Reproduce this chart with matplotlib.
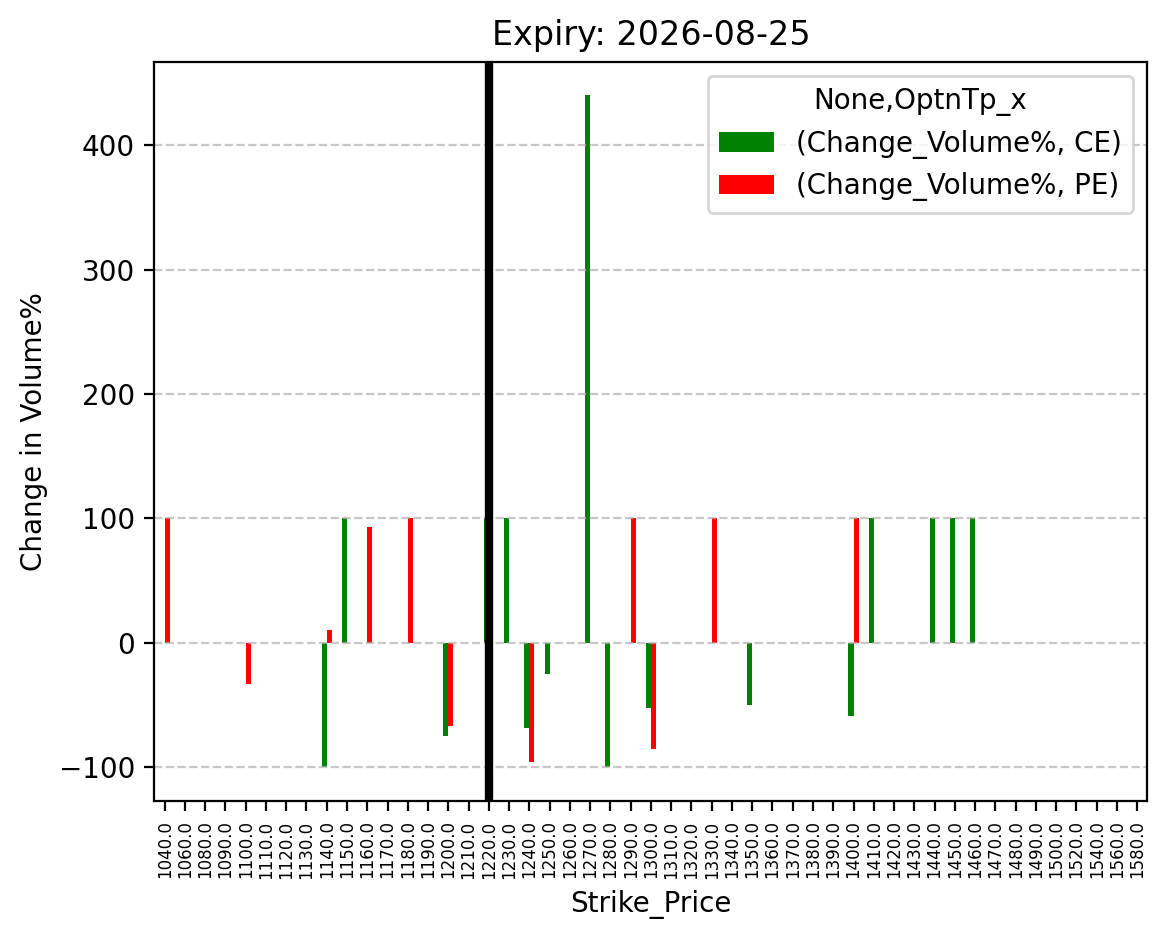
import numpy as np
import pandas as pd
import matplotlib
matplotlib.use("Agg")
import matplotlib.pyplot as plt

# Strike prices on the x axis
strikes = [1040, 1060, 1080, 1090, 1100, 1110, 1120, 1130, 1140, 1150,
           1160, 1170, 1180, 1190, 1200, 1210, 1220, 1230, 1240, 1250,
           1260, 1270, 1280, 1290, 1300, 1310, 1320, 1330, 1340, 1350,
           1360, 1370, 1380, 1390, 1400, 1410, 1420, 1430, 1440, 1450,
           1460, 1470, 1480, 1490, 1500, 1520, 1540, 1560, 1580]

# Change in volume % per strike (NaN = no bar)
nan = np.nan
ce_change = {1140: -100, 1150: 100, 1200: -75, 1220: 100, 1230: 100,
             1240: -68, 1250: -25, 1270: 440, 1280: -100, 1300: -52,
             1350: -50, 1400: -59, 1410: 100, 1440: 100, 1450: 100, 1460: 100}
pe_change = {1040: 100, 1100: -33, 1140: 10, 1160: 93, 1180: 100,
             1200: -67, 1240: -96, 1290: 100, 1300: -85, 1330: 100, 1400: 100}

ce_vals = [ce_change.get(s, nan) for s in strikes]
pe_vals = [pe_change.get(s, nan) for s in strikes]

atm_strike = 1220
expiry = "2026-08-25"

cols = pd.MultiIndex.from_tuples([("Change_Volume%", "CE"), ("Change_Volume%", "PE")],
                                 names=[None, "OptnTp_x"])
df = pd.DataFrame(np.column_stack([ce_vals, pe_vals]),
                  index=pd.Index([float(s) for s in strikes], name="Strike_Price"),
                  columns=cols)

fig, ax = plt.subplots(figsize=(5.83, 4.695), dpi=200)
fig.subplots_adjust(left=0.1325, right=0.984, top=0.9343, bottom=0.147)

df.plot(kind="bar", ax=ax, color=["green", "red"])

# ATM marker
ax.axvline(strikes.index(atm_strike), color="black", linewidth=3)

ax.grid(axis="y", linestyle="--", alpha=0.7)
ax.set_title("Expiry: " + expiry)
ax.set_xlabel("Strike_Price")
ax.set_ylabel("Change in Volume%")
ax.tick_params(axis="x", labelsize=6)
ax.legend(title="None,OptnTp_x", loc="upper right")

fig.savefig("out.png", dpi=200)
